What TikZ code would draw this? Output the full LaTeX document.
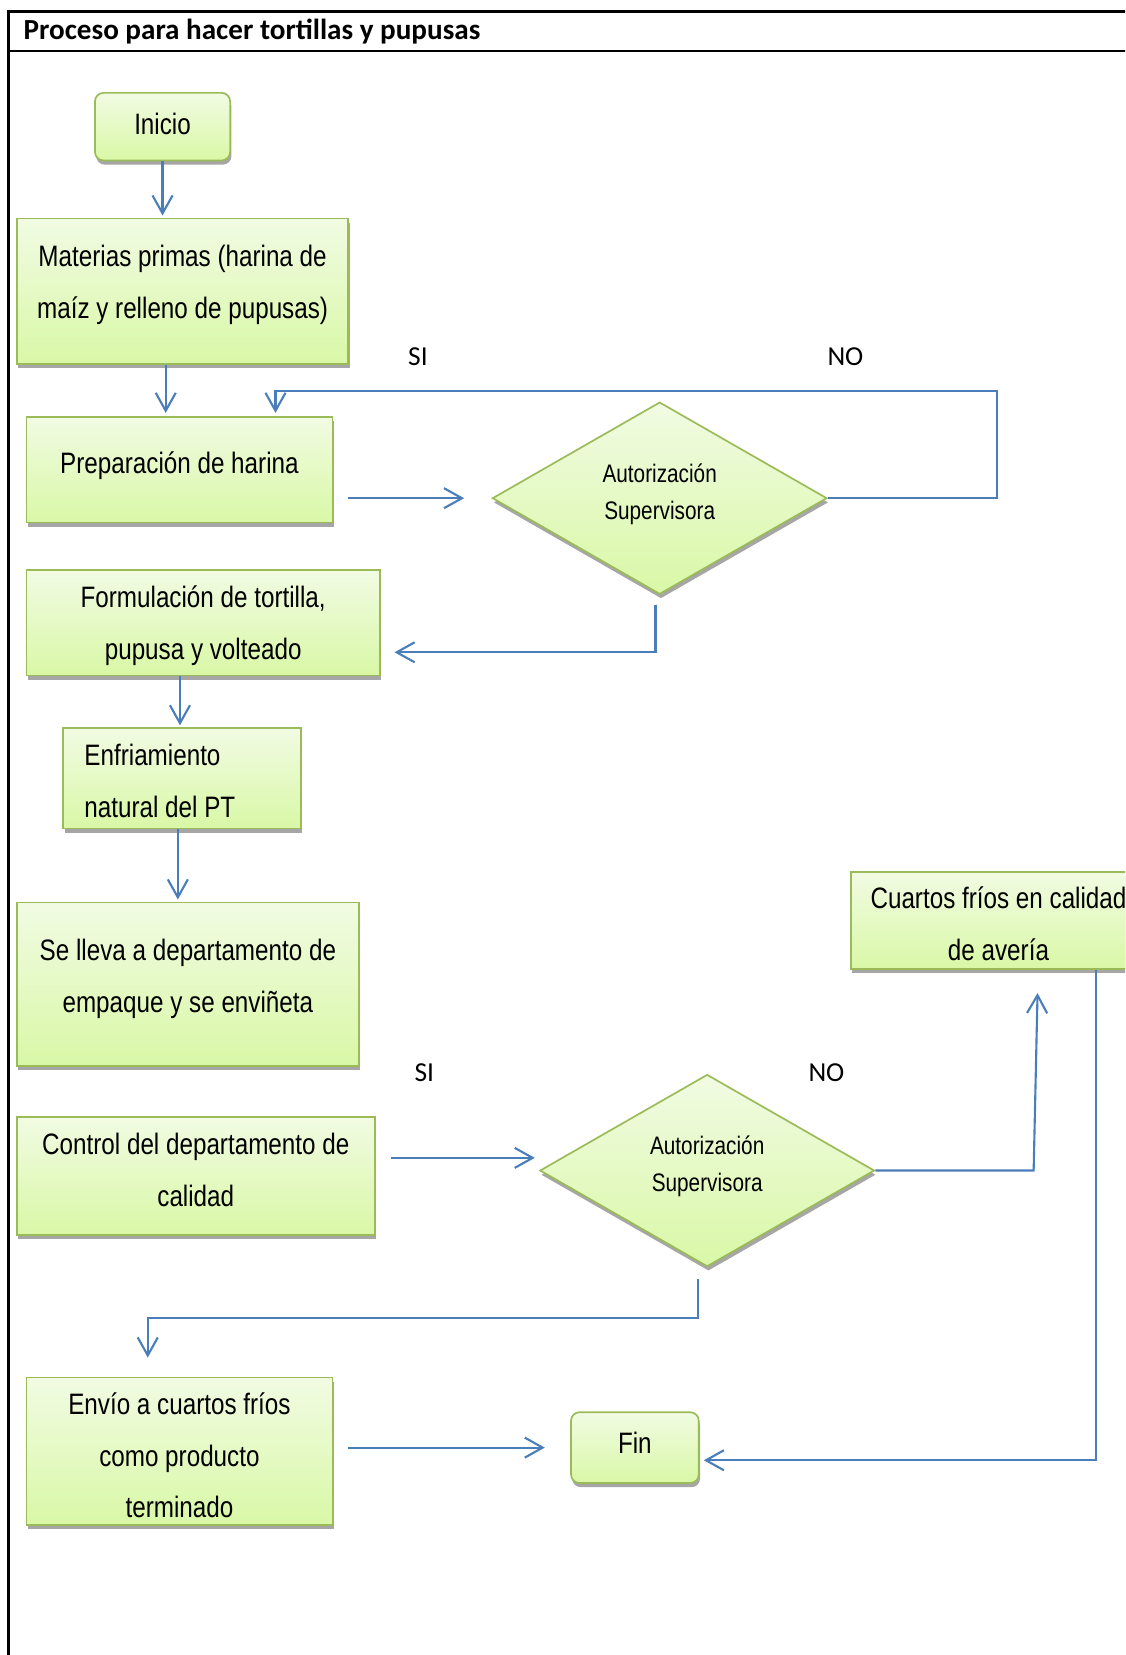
\documentclass[tikz,border=0pt]{standalone}
\usepackage{fontspec}
\setmainfont{Liberation Sans}
\newfontfamily\narrowfont{Liberation Sans}[FakeStretch=0.82]
\newfontfamily\calibrifont{Carlito}
\usetikzlibrary{shapes.geometric,shadows,arrows.meta}

\definecolor{boxtop}{HTML}{F1FBE3}
\definecolor{boxbottom}{HTML}{D9F8A6}
\definecolor{boxline}{HTML}{9BBB59}
\definecolor{flowblue}{HTML}{4A7EBB}

\begin{document}
\begin{tikzpicture}[x=0.5pt,y=-0.5pt,
    box/.style={draw=boxline, line width=0.8pt, top color=boxtop, bottom color=boxbottom,
        drop shadow={shadow xshift=0.6pt,shadow yshift=-2pt,fill=black!35,opacity=1},
        align=center, inner sep=2pt, font=\narrowfont\fontsize{14}{24.5}\selectfont},
    startend/.style={box, rounded corners=4pt},
    decision/.style={box, diamond, shape aspect=1.74, inner sep=0pt, font=\narrowfont\fontsize{12}{17.5}\selectfont},
    flow/.style={draw=flowblue, line width=1pt, -{Straight Barb[length=8.5pt,width=9.5pt]}},
    answer/.style={font=\calibrifont\fontsize{13}{15}\selectfont}]
    \useasboundingbox (0,0) rectangle (1066,1568);
    \clip (0,0) rectangle (1066,1568);

    % frame and title
    \draw[line width=1.1pt] (8,1580) -- (8,11) -- (1080,11);
    \draw[line width=1.1pt] (8,48) -- (1080,48);
    \node[anchor=west, inner sep=0pt, font=\calibrifont\bfseries\fontsize{13.8}{16}\selectfont] (title) at (22,30) {Proceso para hacer tortillas y pupusas};

    % steps
    \node[startend, text depth=3pt, minimum width=64pt, minimum height=32pt] (inicio) at (154,120) {Inicio};
    \node[box, text depth=8.9pt, minimum width=157pt, minimum height=69pt] (mat) at (173,276) {Materias primas (harina de\\maíz y relleno de pupusas)};
    \node[box, text depth=6.9pt, minimum width=145pt, minimum height=50pt] (prep) at (170,445) {Preparación de harina};
    \node[decision, text depth=6.5pt, minimum width=158.5pt, minimum height=91pt] (dia1) at (625,472) {Autorización\\Supervisora};
    \node[box, text depth=0pt, minimum width=167.5pt, minimum height=50pt] (form) at (192.5,590) {Formulación de tortilla,\\pupusa y volteado};
    \node[box, align=flush left, text width=92.5pt, inner xsep=10pt, minimum height=47.5pt] (enf) at (172.5,737.5) {\rule{0pt}{12.8pt}Enfriamiento\\natural del PT};
    \node[box, text depth=7.9pt, minimum width=162pt, minimum height=77.5pt] (lleva) at (178,932.5) {Se lleva a departamento de\\empaque y se enviñeta};
    \node[box, text depth=6pt, minimum width=169.5pt, minimum height=56pt] (control) at (185.5,1114) {Control del departamento de\\calidad};
    \node[decision, text depth=6.5pt, minimum width=158.5pt, minimum height=91pt] (dia2) at (670,1109) {Autorización\\Supervisora};
    \node[box, minimum width=140pt, minimum height=46pt] (cuartos) at (946,872) {\rule{0pt}{13.8pt}Cuartos fríos en calidad\\de avería};
    \node[box, minimum width=145pt, minimum height=70pt] (envio) at (170,1375) {\rule{0pt}{14.3pt}Envío a cuartos fríos\\como producto\\terminado};
    \node[startend, text depth=5pt, minimum width=60.5pt, minimum height=33.5pt] (fin) at (601.5,1371.5) {Fin};

    % answers
    \node[answer] (si1) at (396,338) {SI};
    \node[answer] (no1) at (801,338) {NO};
    \node[answer] (si2) at (402,1016) {SI};
    \node[answer] (no2) at (783,1016) {NO};

    % connectors
    \draw[flow] (inicio.south) -- ([yshift=1pt]inicio.south |- mat.north);
    \draw[flow] ([xshift=-8pt]mat.south) -- ([xshift=-8pt,yshift=1.5pt]mat.south |- prep.north);
    \draw[flow] (dia1.east) -- ++(160,0) |- ([xshift=45.5pt,yshift=12pt]prep.north) -- ([xshift=45.5pt,yshift=1.5pt]prep.north);
    \draw[flow] ([xshift=7pt]prep.east |- dia1.west) -- ([xshift=-13pt]dia1.west);
    \draw[flow] ([xshift=-2pt,yshift=-4.5pt]dia1.south) |- ([xshift=6.5pt,yshift=-14pt]form.east);
    \draw[flow] ([xshift=-11pt]form.south) -- ([xshift=-11pt,yshift=1pt]form.south |- enf.north);
    \draw[flow] ([xshift=-2pt]enf.south) -- ([xshift=-2pt,yshift=1pt]enf.south |- lleva.north);
    \draw[flow] ([xshift=7.5pt,yshift=8.5pt]control.east) -- ([xshift=-2pt,yshift=8.5pt]control.east -| dia2.west);
    \draw[flow] (dia2.east) -- ++(150,0) -- ([xshift=18.5pt,yshift=-11pt]cuartos.south);
    \draw[flow] ([xshift=-4.5pt,yshift=-5.5pt]dia2.south) -- ++(0,37) -| ([xshift=-15pt,yshift=9pt]envio.north);
    \draw[flow] ([xshift=7pt]envio.east |- fin.west) -- ([xshift=-12pt]fin.west);
    \draw[flow] ([xshift=46pt]cuartos.south) |- ([xshift=2pt,yshift=-6pt]fin.east);
\end{tikzpicture}
\end{document}
